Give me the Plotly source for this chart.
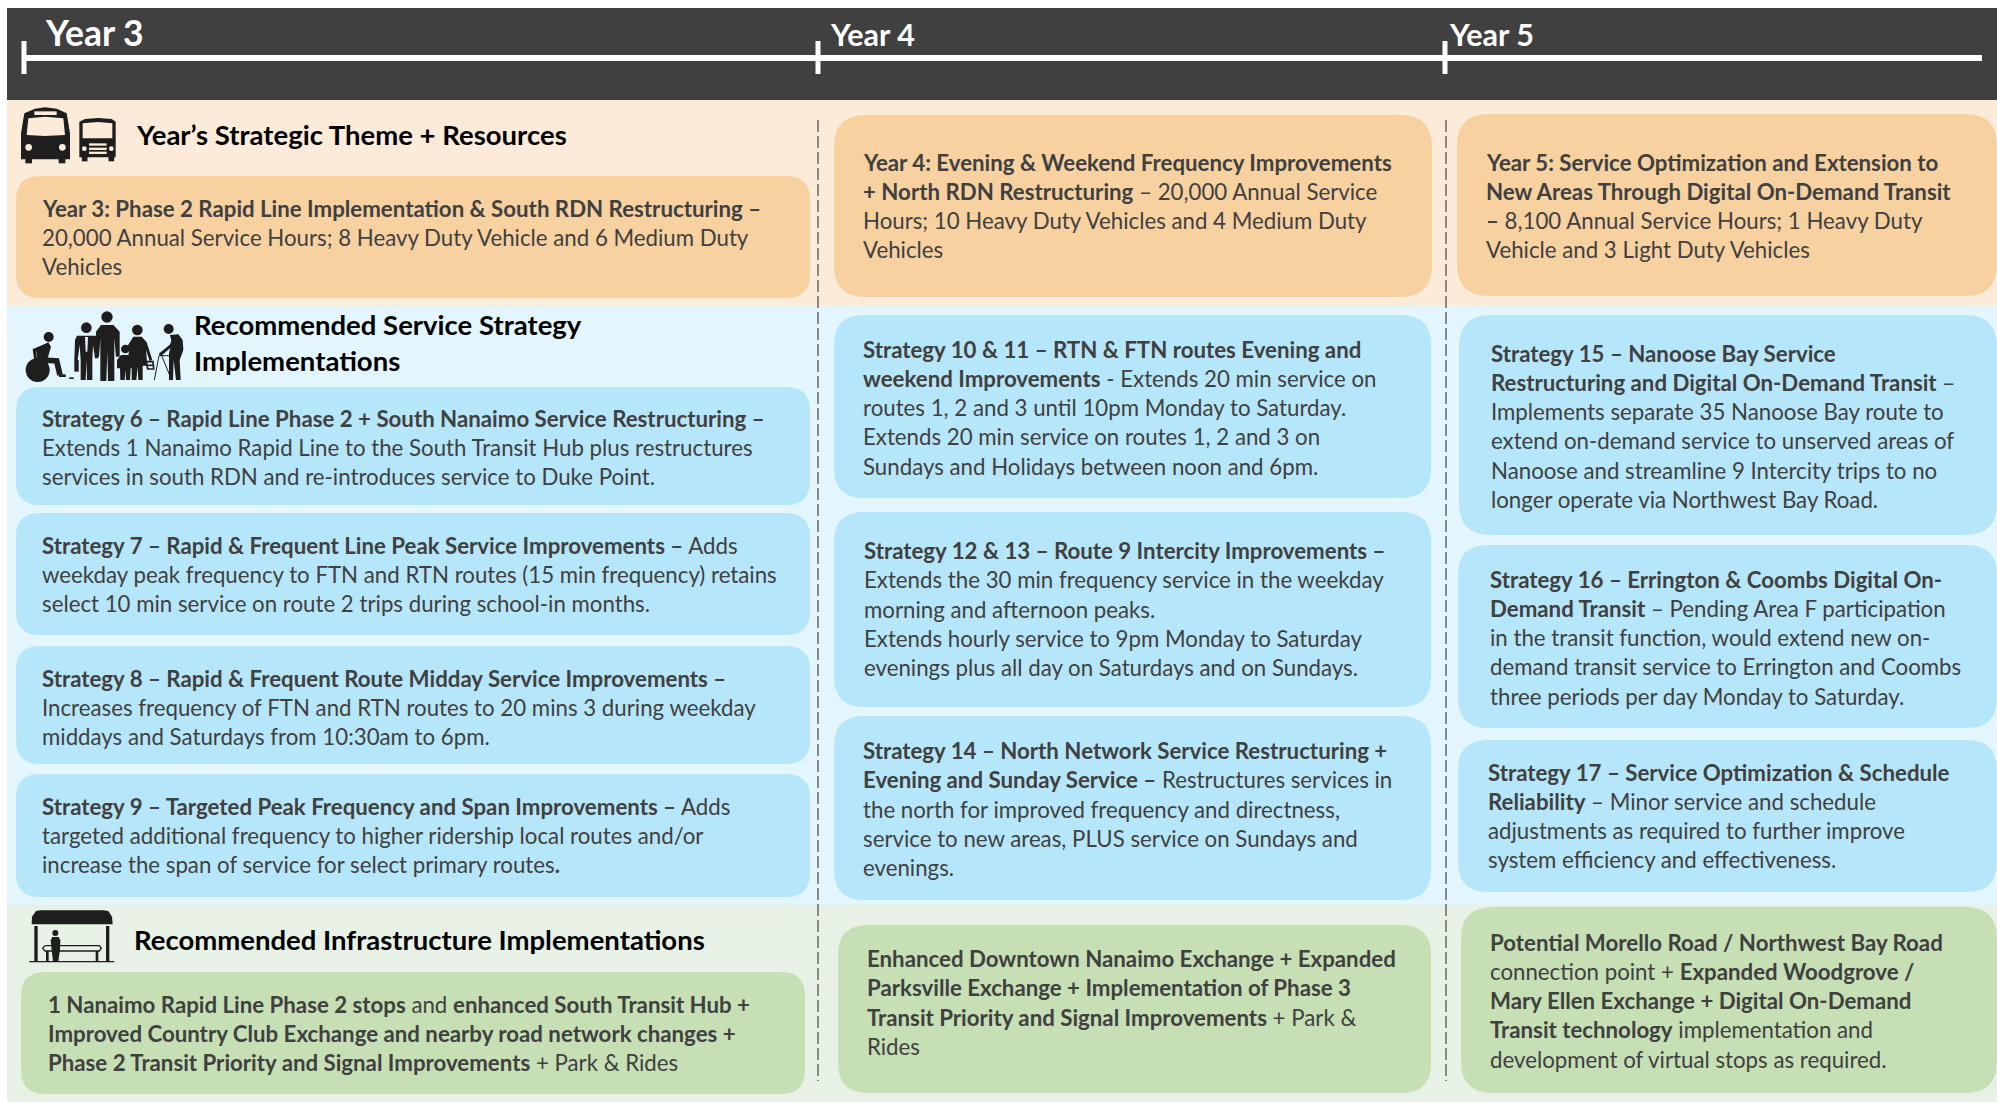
import plotly.graph_objects as go

FONT = "Lato"
YEARS = ["Year 3", "Year 4", "Year 5"]
HEADINGS = [
    ["Year’s Strategic Theme + Resources"],
    ["Recommended Service Strategy", "Implementations"],
    ["Recommended Infrastructure Implementations"],
]

THEME_3 = ["<b>Year 3: Phase 2 Rapid Line Implementation &amp; South RDN Restructuring –</b>",
           "20,000 Annual Service Hours; 8 Heavy Duty Vehicle and 6 Medium Duty",
           "Vehicles"]
S6 = ["<b>Strategy 6 – Rapid Line Phase 2 + South Nanaimo Service Restructuring –</b>",
      "Extends 1 Nanaimo Rapid Line to the South Transit Hub plus restructures",
      "services in south RDN and re-introduces service to Duke Point."]
S7 = ["<b>Strategy 7 – Rapid &amp; Frequent Line Peak Service Improvements –</b> Adds",
      "weekday peak frequency to FTN and RTN routes (15 min frequency) retains",
      "select 10 min service on route 2 trips during school-in months."]
S8 = ["<b>Strategy 8 – Rapid &amp; Frequent Route Midday Service Improvements –</b>",
      "Increases frequency of FTN and RTN routes to 20 mins 3 during weekday",
      "middays and Saturdays from 10:30am to 6pm."]
S9 = ["<b>Strategy 9 – Targeted Peak Frequency and Span Improvements –</b> Adds",
      "targeted additional frequency to higher ridership local routes and/or",
      "increase the span of service for select primary routes<b>.</b>"]
INFRA_3 = ["<b>1 Nanaimo Rapid Line Phase 2 stops</b> and <b>enhanced South Transit Hub +</b>",
           "<b>Improved Country Club Exchange and nearby road network changes +</b>",
           "<b>Phase 2 Transit Priority and Signal Improvements</b> + Park &amp; Rides"]

THEME_4 = ["<b>Year 4: Evening &amp; Weekend Frequency Improvements</b>",
           "<b>+ North RDN Restructuring</b> – 20,000 Annual Service",
           "Hours; 10 Heavy Duty Vehicles and 4 Medium Duty",
           "Vehicles"]
S10 = ["<b>Strategy 10 &amp; 11 – RTN &amp; FTN routes Evening and</b>",
       "<b>weekend Improvements</b> - Extends 20 min service on",
       "routes 1, 2 and 3 until 10pm Monday to Saturday.",
       "Extends 20 min service on routes 1, 2 and 3 on",
       "Sundays and Holidays between noon and 6pm."]
S12 = ["<b>Strategy 12 &amp; 13 – Route 9 Intercity Improvements –</b>",
       "Extends the 30 min frequency service in the weekday",
       "morning and afternoon peaks.",
       "Extends hourly service to 9pm Monday to Saturday",
       "evenings plus all day on Saturdays and on Sundays."]
S14 = ["<b>Strategy 14 – North Network Service Restructuring +</b>",
       "<b>Evening and Sunday Service –</b> Restructures services in",
       "the north for improved frequency and directness,",
       "service to new areas, PLUS service on Sundays and",
       "evenings."]
INFRA_4 = ["<b>Enhanced Downtown Nanaimo Exchange + Expanded</b>",
           "<b>Parksville Exchange + Implementation of Phase 3</b>",
           "<b>Transit Priority and Signal Improvements</b> + Park &amp;",
           "Rides"]

THEME_5 = ["<b>Year 5: Service Optimization and Extension to</b>",
           "<b>New Areas Through Digital On-Demand Transit</b>",
           "<b>–</b> 8,100 Annual Service Hours; 1 Heavy Duty",
           "Vehicle and 3 Light Duty Vehicles"]
S15 = ["<b>Strategy 15 – Nanoose Bay Service</b>",
       "<b>Restructuring and Digital On-Demand Transit</b> –",
       "Implements separate 35 Nanoose Bay route to",
       "extend on-demand service to unserved areas of",
       "Nanoose and streamline 9 Intercity trips to no",
       "longer operate via Northwest Bay Road."]
S16 = ["<b>Strategy 16 – Errington &amp; Coombs Digital On-</b>",
       "<b>Demand Transit</b> – Pending Area F participation",
       "in the transit function, would extend new on-",
       "demand transit service to Errington and Coombs",
       "three periods per day Monday to Saturday."]
S17 = ["<b>Strategy 17 – Service Optimization &amp; Schedule</b>",
       "<b>Reliability</b> – Minor service and schedule",
       "adjustments as required to further improve",
       "system efficiency and effectiveness."]
INFRA_5 = ["<b>Potential Morello Road / Northwest Bay Road</b>",
           "connection point + <b>Expanded Woodgrove /</b>",
           "<b>Mary Ellen Exchange + Digital On-Demand</b>",
           "<b>Transit technology</b> implementation and",
           "development of virtual stops as required."]

# --- layout below: pixel positions of the page (x0, y0, x1, y1, radius), colour key, text x, first line y
DARK, ORANGE, BLUE, GREEN = "#404040", "#F7D1A0", "#B6E6FA", "#C6DFB4"
TXT = "#404040"
PITCH = 29.25
SIZE = 22.25
BOXES = [
    (THEME_3, 16, 176, 810, 298, 24, ORANGE, 41, 208),
    (S6, 16, 387, 810, 505, 24, BLUE, 41, 418),
    (S7, 16, 513, 810, 635, 24, BLUE, 41, 545),
    (S8, 16, 646, 810, 764, 24, BLUE, 41, 678),
    (S9, 16, 774, 810, 897, 24, BLUE, 41, 806),
    (INFRA_3, 21, 972, 805, 1094, 24, GREEN, 47, 1004),
    (THEME_4, 834, 115, 1432, 297, 32, ORANGE, 862, 162),
    (S10, 834, 315, 1431, 498, 30, BLUE, 862, 349),
    (S12, 834, 512, 1431, 707, 30, BLUE, 863, 550.5),
    (S14, 834, 716, 1431, 900, 30, BLUE, 862, 750.5),
    (INFRA_4, 838, 925, 1431, 1093, 30, GREEN, 866, 958.5),
    (THEME_5, 1457, 114, 1997, 296, 32, ORANGE, 1485, 162),
    (S15, 1459, 315, 1997, 535, 32, BLUE, 1490, 353),
    (S16, 1458, 545, 1997, 728, 30, BLUE, 1489, 579),
    (S17, 1458, 740, 1997, 892, 30, BLUE, 1487, 772),
    (INFRA_5, 1461, 907, 1997, 1093, 32, GREEN, 1489, 942),
]

shapes, anns = [], []


def rect(x0, y0, x1, y1, color):
    shapes.append(dict(type="rect", x0=x0, y0=y0, x1=x1, y1=y1, fillcolor=color, line_width=0, layer="below"))


def rrect_path(x0, y0, x1, y1, r):
    return (f"M{x0+r},{y0} L{x1-r},{y0} Q{x1},{y0} {x1},{y0+r} L{x1},{y1-r} Q{x1},{y1} {x1-r},{y1} "
            f"L{x0+r},{y1} Q{x0},{y1} {x0},{y1-r} L{x0},{y0+r} Q{x0},{y0} {x0+r},{y0} Z")


def text(x, y, s, size, color, bold=False):
    anns.append(dict(x=x, y=y, text=f"<b>{s}</b>" if bold else s, showarrow=False, xanchor="left", yanchor="middle",
                     align="left", borderpad=0, font=dict(family=FONT, size=size, color=color)))


# bands and header
rect(7, 100, 1997, 306, "#FCEBD9")
rect(7, 306, 1997, 905, "#E3F5FD")
rect(7, 905, 1997, 1102, "#E7F1E5")
rect(7, 8, 1997, 100, DARK)

# dashed separators
for x in (818, 1446):
    shapes.append(dict(type="line", x0=x, x1=x, y0=120, y1=1081, line=dict(color="#666666", width=1.5, dash="12px,4px")))

# rounded boxes and text
for lines, x0, y0, x1, y1, r, col, tx, ty in BOXES:
    shapes.append(dict(type="path", path=rrect_path(x0, y0, x1, y1, r), fillcolor=col, line_width=0))
    for i, ln in enumerate(lines):
        text(tx, ty + i * PITCH, ln, SIZE, TXT)

# timeline
shapes.append(dict(type="line", x0=24, x1=1982, y0=58, y1=58, line=dict(color="white", width=6)))
for x in (24, 818, 1445):
    shapes.append(dict(type="line", x0=x, x1=x, y0=41, y1=74, line=dict(color="white", width=5)))
text(44, 32, YEARS[0], 35.5, "white", True)
text(829, 34, YEARS[1], 30.5, "white", True)
text(1448, 34, YEARS[2], 30.5, "white", True)

# headings
text(135, 134, HEADINGS[0][0], 27.5, "black", True)
text(193, 324, HEADINGS[1][0], 27.5, "black", True)
text(193, 360, HEADINGS[1][1], 27.5, "black", True)
text(133, 939, HEADINGS[2][0], 27.5, "black", True)

# ---- pictograms, drawn in zoom-crop coordinates
INK = "#1E1E1E"


class Icon:
    def __init__(self, ox, oy, s=1 / 3):
        self.ox, self.oy, self.s = ox, oy, s

    def p(self, x, y):
        return f"{self.ox + x * self.s:.2f},{self.oy + y * self.s:.2f}"

    def poly(self, pts, color=INK):
        d = "M" + " L".join(self.p(*q) for q in pts) + " Z"
        shapes.append(dict(type="path", path=d, fillcolor=color, line_width=0))

    def stroke(self, pts, w, color=INK):
        d = "M" + " L".join(self.p(*q) for q in pts)
        shapes.append(dict(type="path", path=d, line=dict(color=color, width=w * self.s)))

    def circle(self, cx, cy, r, color=INK):
        shapes.append(dict(type="circle", x0=self.ox + (cx - r) * self.s, x1=self.ox + (cx + r) * self.s,
                           y0=self.oy + (cy - r) * self.s, y1=self.oy + (cy + r) * self.s,
                           fillcolor=color, line_width=0))


# buses
bg = "#FCEBD9"
b = Icon(15, 100)
b.poly([(18, 100), (28, 40), (60, 26), (90, 22), (125, 26), (155, 40), (165, 100), (165, 178), (18, 178)])
b.poly([(35, 105), (40, 55), (90, 50), (145, 55), (150, 105), (90, 108)], bg)
b.poly([(58, 34), (125, 34), (125, 45), (58, 45)], bg)
b.circle(41, 142, 10, bg)
b.circle(142, 142, 10, bg)
b.stroke([(41, 175), (41, 190)], 20)
b.stroke([(141, 175), (141, 190)], 20)
b.poly([(193, 65), (210, 57), (250, 54), (290, 57), (302, 65), (302, 172), (193, 172)])
b.poly([(203, 115), (203, 70), (250, 66), (292, 70), (292, 115)], bg)
b.circle(208, 146, 7, bg)
b.circle(289, 146, 7, bg)
for y in (130, 143, 155):
    b.poly([(222, y), (275, y), (275, y + 7), (222, y + 7)], bg)
b.stroke([(209, 170), (209, 184)], 17)
b.stroke([(289, 170), (289, 184)], 17)

# people
bg = "#E3F5FD"
q = Icon(15, 305)
q.circle(68, 195, 36)
q.circle(101, 96, 15)
q.poly([(62, 130), (100, 112), (108, 125), (95, 170), (70, 178)])
q.stroke([(85, 165), (125, 168), (135, 210)], 17)
q.stroke([(132, 212), (152, 212)], 8)
q.stroke([(85, 125), (58, 135), (62, 165)], 9)
q.poly([(163, 217), (176, 217), (176, 222), (163, 222)])
# man with tie
q.circle(214, 68, 16)
q.poly([(186, 92), (243, 92), (250, 105), (250, 160), (240, 160), (234, 120), (232, 165), (232, 225), (216, 225),
        (215, 165), (212, 225), (197, 225), (197, 165), (194, 120), (188, 165), (178, 165), (180, 105)])
q.poly([(210, 96), (219, 96), (217, 140), (212, 140)], bg)
q.poly([(178, 165), (191, 165), (191, 200), (178, 200)])
# tall man
q.circle(276, 36, 17)
q.poly([(258, 60), (295, 60), (314, 80), (314, 155), (303, 155), (298, 100), (298, 228), (279, 228), (277, 140),
        (274, 228), (256, 228), (256, 100), (252, 155), (243, 155), (243, 80)])
# child
q.circle(331, 132, 13)
q.poly([(318, 150), (343, 150), (356, 165), (356, 190), (347, 190), (345, 225), (333, 225), (331, 195), (329, 225),
        (316, 225), (315, 190), (306, 190), (306, 165)])
# woman
q.circle(367, 75, 16)
q.poly([(355, 95), (380, 95), (395, 112), (412, 165), (404, 168), (393, 135), (397, 182), (383, 182), (383, 225),
        (370, 225), (368, 185), (364, 225), (350, 225), (350, 180), (337, 180), (342, 135), (338, 122)])
q.stroke([(394, 170), (398, 192), (416, 192), (414, 170), (394, 170)], 5)
q.stroke([(398, 181), (416, 181)], 5)
# elder with walker
q.circle(461, 72, 15)
q.poly([(465, 90), (490, 88), (503, 105), (505, 135), (494, 165), (497, 225), (483, 225), (476, 165), (474, 225),
        (462, 225), (462, 145), (470, 112)])
q.stroke([(478, 100), (468, 122), (434, 150)], 9)
q.stroke([(432, 152), (418, 225)], 3)
q.stroke([(432, 152), (470, 152)], 3)
q.stroke([(440, 152), (470, 225)], 3)

# shelter
s = Icon(20, 905)
s.poly([(35, 58), (36, 35), (48, 18), (62, 16), (250, 16), (265, 18), (276, 35), (278, 58)])
s.poly([(43, 63), (53, 63), (53, 168), (43, 168)])
s.poly([(258, 63), (268, 63), (268, 168), (258, 168)])
s.poly([(28, 168), (283, 168), (283, 172), (28, 172)])
s.stroke([(75, 122), (238, 122), (244, 130), (238, 138), (75, 138), (68, 130), (75, 122)], 4)
s.poly([(78, 138), (86, 138), (86, 168), (78, 168)])
s.poly([(227, 138), (235, 138), (235, 168), (227, 168)])
s.circle(106, 84, 9)
s.poly([(97, 96), (116, 96), (121, 106), (120, 135), (115, 168), (99, 168), (95, 135), (92, 106)])

fig = go.Figure()
fig.update_layout(
    width=1997, height=1102, autosize=False, margin=dict(l=0, r=0, t=0, b=0),
    paper_bgcolor="white", plot_bgcolor="white", showlegend=False,
    xaxis=dict(range=[0, 1997], visible=False, fixedrange=True),
    yaxis=dict(range=[1102, 0], visible=False, fixedrange=True),
    shapes=shapes, annotations=anns,
)
fig.write_html("out.html", config=dict(displayModeBar=False),
               post_script="document.body.style.margin='0';document.body.style.overflow='hidden';")
